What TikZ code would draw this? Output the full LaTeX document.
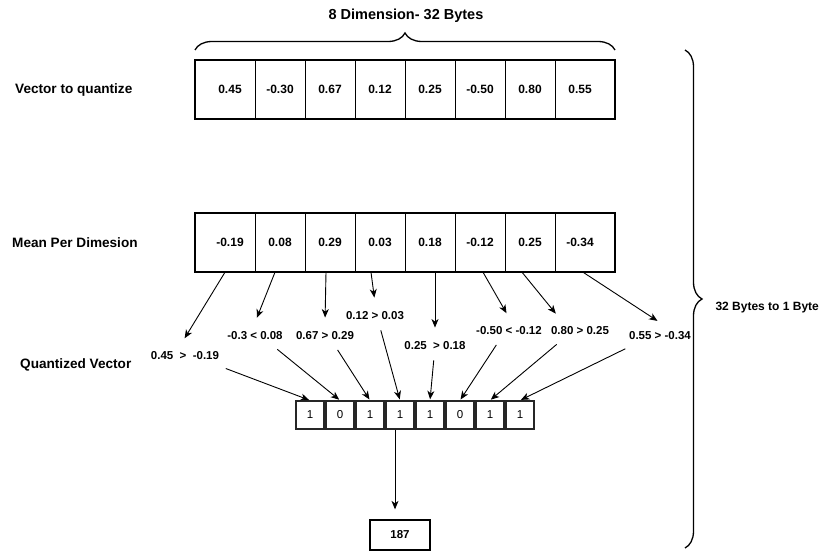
\documentclass[tikz,border=0pt]{standalone}
\usepackage{fontspec}
\setmainfont{Liberation Sans}
\usetikzlibrary{arrows.meta,decorations.pathreplacing}

\begin{document}
\begin{tikzpicture}[x=1pt,y=-1pt]
        \tikzstyle{cell}=[minimum width=50pt,minimum height=59pt,inner sep=0pt,font=\bfseries\fontsize{12}{14}\selectfont]
        \tikzstyle{frame}=[draw,line width=2.6pt]
        \tikzstyle{divider}=[draw,line width=0.7pt]
        \tikzstyle{bit}=[draw=black!85,line width=1.3pt,minimum size=28pt,inner sep=0pt,font=\fontsize{11.5}{13}\selectfont]
        \tikzstyle{result}=[draw,line width=1.3pt,minimum width=60pt,minimum height=30pt,inner sep=0pt,font=\bfseries\fontsize{11.5}{13}\selectfont]
        \tikzstyle{cmp}=[inner xsep=1pt,inner ysep=8pt,text height=8.5pt,text depth=0pt,font=\bfseries\fontsize{11.5}{13}\selectfont]
        \tikzstyle{rowname}=[anchor=west,inner sep=0pt,font=\bfseries\fontsize{13.6}{16}\selectfont]
        \tikzstyle{link}=[draw,-{Stealth[length=8.5pt,width=7pt,inset=2.5pt]},line width=0.9pt]
        \tikzstyle{bracket}=[draw,line width=1.3pt,decorate,decoration={brace,amplitude=17pt}]
        \useasboundingbox (0,0) rectangle (830,551);
       \begin{scope}
         \node [font=\bfseries\fontsize{14.5}{17}\selectfont] (title) at (406,16) {8 Dimension- 32 Bytes};
         \node [rowname] (vq) at (15,90) {Vector to quantize};
         \node [rowname] (mpd) at (12,243) {Mean Per Dimesion};
         \node [rowname] (qv) at (20,365) {Quantized Vector};
         \node [anchor=west,font=\bfseries\fontsize{12}{14}\selectfont] (ratio) at (712,308) {32 Bytes to 1 Byte};

         \node [cell] (v1) at (230,89.5) {0.45};
         \node [cell] (v2) at (280,89.5) {-0.30};
         \node [cell] (v3) at (330,89.5) {0.67};
         \node [cell] (v4) at (380,89.5) {0.12};
         \node [cell] (v5) at (430,89.5) {0.25};
         \node [cell] (v6) at (480,89.5) {-0.50};
         \node [cell] (v7) at (530,89.5) {0.80};
         \node [cell] (v8) at (580,89.5) {0.55};

         \node [cell] (m1) at (230,242.5) {-0.19};
         \node [cell] (m2) at (280,242.5) {0.08};
         \node [cell] (m3) at (330,242.5) {0.29};
         \node [cell] (m4) at (380,242.5) {0.03};
         \node [cell] (m5) at (430,242.5) {0.18};
         \node [cell] (m6) at (480,242.5) {-0.12};
         \node [cell] (m7) at (530,242.5) {0.25};
         \node [cell] (m8) at (580,242.5) {-0.34};

         \path[divider] (v1.north east) -- (v1.south east) (v2.north east) -- (v2.south east)
           (v3.north east) -- (v3.south east) (v4.north east) -- (v4.south east)
           (v5.north east) -- (v5.south east) (v6.north east) -- (v6.south east)
           (v7.north east) -- (v7.south east);
         \path[divider] (m1.north east) -- (m1.south east) (m2.north east) -- (m2.south east)
           (m3.north east) -- (m3.south east) (m4.north east) -- (m4.south east)
           (m5.north east) -- (m5.south east) (m6.north east) -- (m6.south east)
           (m7.north east) -- (m7.south east);
         \draw[frame] (195,60) rectangle (615,119);
         \draw[frame] (195,213) rectangle (615,272);

         \node [cmp] (c1) at (185,355) {0.45 \ > \ -0.19};
         \node [cmp] (c2) at (255,335) {-0.3 < 0.08};
         \node [cmp] (c3) at (325,335) {0.67 > 0.29};
         \node [cmp] (c4) at (375,315) {0.12 > 0.03};
         \node [cmp] (c5) at (435,345) {0.25 \ > 0.18};
         \node [cmp] (c6) at (509,330) {-0.50 < -0.12};
         \node [cmp] (c7) at (580,330) {0.80 > 0.25};
         \node [cmp] (c8) at (660,335) {0.55 > -0.34};

         \node [bit] (b1) at (310,415) {1};
         \node [bit] (b2) at (340,415) {0};
         \node [bit] (b3) at (370,415) {1};
         \node [bit] (b4) at (400,415) {1};
         \node [bit] (b5) at (430,415) {1};
         \node [bit] (b6) at (460,415) {0};
         \node [bit] (b7) at (490,415) {1};
         \node [bit] (b8) at (520,415) {1};
         \node [result] (r) at (400,535) {187};

         \draw[link,shorten >=5pt] ([xshift=-5pt]m1.south) -- ([xshift=-3pt]c1.north);
         \draw[link,shorten >=5pt] ([xshift=-5pt]m2.south) -- (c2.north);
         \draw[link,shorten >=5pt] ([xshift=-4pt]m3.south) -- (c3.north);
         \draw[link,shorten >=5pt] ([xshift=-9pt]m4.south) -- (c4.north);
         \draw[link,shorten >=5pt] ([xshift=5pt]m5.south) -- (c5.north);
         \draw[link,shorten >=5pt] ([xshift=3pt]m6.south) -- (c6.north);
         \draw[link,shorten >=5pt] ([xshift=-8pt]m7.south) -- ([xshift=-21pt]c7.north);
         \draw[link,shorten >=3pt] ([xshift=3pt]m8.south) -- (c8.north);

         \draw[link,shorten <=3pt,shorten >=1pt] ([xshift=38pt]c1.south) -- (b1.north);
         \draw[link,shorten <=3pt,shorten >=1pt] ([xshift=20pt]c2.south) -- (b2.north);
         \draw[link,shorten <=3pt,shorten >=1pt] ([xshift=11pt]c3.south) -- (b3.north);
         \draw[link,shorten <=3pt,shorten >=1pt] ([xshift=5pt]c4.south) -- (b4.north);
         \draw[link,shorten <=3pt,shorten >=1pt] ([xshift=-1pt]c5.south) -- (b5.north);
         \draw[link,shorten <=3pt,shorten >=1pt] ([xshift=-11pt]c6.south) -- (b6.north);
         \draw[link,shorten <=3pt,shorten >=1pt] ([xshift=-21pt]c7.south) -- (b7.north);
         \draw[link,shorten <=3pt,shorten >=1pt] ([xshift=-32pt]c8.south) -- (b8.north);
         \draw[link,shorten >=10pt] ([xshift=-5pt]b4.south) -- ([xshift=-5pt]r.north);

         \draw[bracket] (195,50) -- (615,50);
         \draw[bracket] (685,50) -- (685,548);
        \end{scope}
      \end{tikzpicture}
\end{document}
